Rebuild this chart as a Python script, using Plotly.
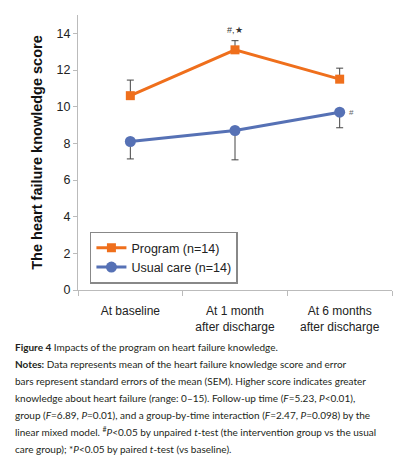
import plotly.graph_objects as go

categories = ["At baseline", "At 1 month<br>after discharge", "At 6 months<br>after discharge"]
program_mean = [10.6, 13.1, 11.5]
program_err_up = [0.85, 0.5, 0.6]
usual_mean = [8.1, 8.7, 9.7]
usual_err_down = [0.95, 1.6, 0.85]
y_ticks = [0, 2, 4, 6, 8, 10, 12, 14]

caption_lines = [
    "<b>Figure 4</b> Impacts of the program on heart failure knowledge.",
    "<b>Notes:</b> Data represents mean of the heart failure knowledge score and error",
    "bars represent standard errors of the mean (SEM). Higher score indicates greater",
    "knowledge about heart failure (range: 0–15). Follow-up time (<i>F</i>=5.23, <i>P</i>&lt;0.01),",
    "group (<i>F</i>=6.89, <i>P</i>=0.01), and a group-by-time interaction (<i>F</i>=2.47, <i>P</i>=0.098) by the",
    "linear mixed model. <sup>#</sup><i>P</i>&lt;0.05 by unpaired <i>t</i>-test (the intervention group vs the usual",
    "care group); *<i>P</i>&lt;0.05 by paired <i>t</i>-test (vs baseline).",
]

orange = "#EF6F1C"
blue = "#5671B5"
err_col = "#444444"

fig = go.Figure()

fig.add_trace(
    go.Scatter(
        x=categories,
        y=program_mean,
        mode="lines+markers",
        name="Program (n=14)",
        line=dict(color=orange, width=3),
        marker=dict(symbol="square", size=9, color=orange),
        error_y=dict(
            type="data", symmetric=False,
            array=program_err_up, arrayminus=[0] * 3,
            color=err_col, thickness=1, width=3.5,
        ),
    )
)

fig.add_trace(
    go.Scatter(
        x=categories,
        y=usual_mean,
        mode="lines+markers",
        name="Usual care (n=14)",
        line=dict(color=blue, width=3),
        marker=dict(symbol="circle", size=11, color=blue),
        error_y=dict(
            type="data", symmetric=False,
            array=[0] * 3, arrayminus=usual_err_down,
            color=err_col, thickness=1, width=3.5,
        ),
    )
)

# significance marks
fig.add_annotation(x=categories[1], y=program_mean[1], text="#,★", showarrow=False,
                   yshift=20, font=dict(size=9, color="#333"))
fig.add_annotation(x=categories[2], y=usual_mean[2], text="#", showarrow=False,
                   xshift=12, font=dict(size=8, color="#666"))

for i, line in enumerate(caption_lines):
    fig.add_annotation(
        xref="paper", yref="paper", x=-0.207, y=-0.207 - i * 0.0618,
        xanchor="left", yanchor="middle", align="left",
        text=line, showarrow=False,
        font=dict(family="Lato, Open Sans, sans-serif", size=10, color="#231f20"),
    )

fig.update_layout(
    width=416,
    height=460,
    margin=dict(l=78, r=24, t=15, b=170),
    paper_bgcolor="white",
    plot_bgcolor="white",
    font=dict(family="Arial, Liberation Sans, sans-serif", color="#222"),
    showlegend=True,
    legend=dict(
        x=0.038, y=0.212, xanchor="left", yanchor="top",
        bordercolor="#888", borderwidth=1.5,
        font=dict(size=12.5, color="#222"),
        itemwidth=30, tracegroupgap=0,
    ),
    xaxis=dict(
        range=[-0.5, 2.5],
        automargin=False,
        showline=True, linecolor="#bbb", linewidth=1,
        showgrid=False,
        tickfont=dict(size=12),
        ticks="outside", ticklen=5, tickcolor="#bbb", tickson="boundaries",
        ticklabelstandoff=10,
    ),
    yaxis=dict(
        range=[0, 15],
        automargin=False,
        tickvals=y_ticks,
        showline=True, linecolor="#bbb", linewidth=1,
        ticks="outside", ticklen=4, tickcolor="#bbb",
        showgrid=False, zeroline=False,
        tickfont=dict(size=12.5),
        title=dict(text="<b>The heart failure knowledge score</b>",
                   font=dict(size=14.5, color="#111"), standoff=10),
    ),
)

fig.write_html("out.html", config={"displayModeBar": False},
               post_script="document.body.style.margin='0';")
